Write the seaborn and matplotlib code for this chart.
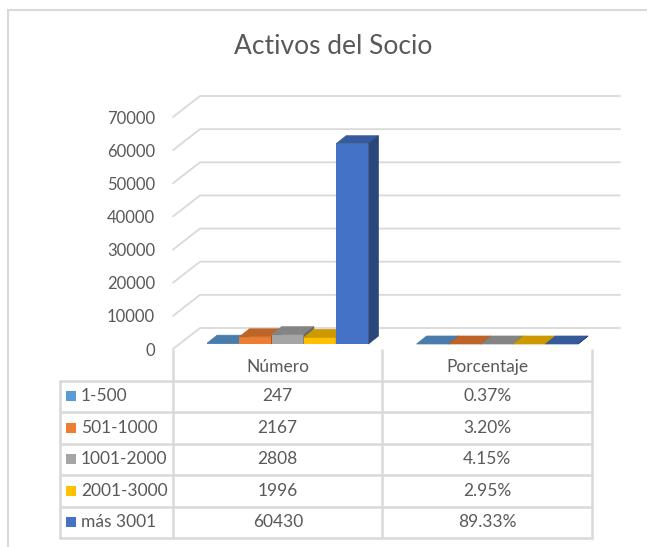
import numpy as np
import pandas as pd
import matplotlib
matplotlib.use('Agg')
import matplotlib.pyplot as plt
import matplotlib.transforms as mtransforms
from matplotlib.lines import Line2D
from matplotlib.patches import Polygon, Rectangle
import seaborn as sns

# Data
categorias = ['Número', 'Porcentaje']
rangos = ['1-500', '501-1000', '1001-2000', '2001-3000', 'más 3001']
numero = [247, 2167, 2808, 1996, 60430]
porcentaje = [0.0037, 0.0320, 0.0415, 0.0295, 0.8933]
porcentaje_txt = ['0.37%', '3.20%', '4.15%', '2.95%', '89.33%']
colores = ['#5B9BD5', '#ED7D31', '#A5A5A5', '#FFC000', '#4472C4']
yticks = list(range(0, 70001, 10000))

sns.set_style('white')
plt.rcParams['font.family'] = ['Lato', 'DejaVu Sans']
TXT = '#595959'
LINE = '#D9D9D9'

W, H = 647, 547
fig = plt.figure(figsize=(W / 100, H / 100), dpi=100)


def fx(px):
    return px / W


def fy(py):
    return 1 - py / H


def shade(c, f):
    r, g, b = matplotlib.colors.to_rgb(c)
    return (r * f, g * f, b * f)


# outer chart border
fig.add_artist(Rectangle((fx(8), -0.1), 1.2, fy(10) + 0.1, transform=fig.transFigure,
                         fill=False, edgecolor=LINE, lw=1.5))

fig.text(fx(333), fy(47), 'Activos del Socio', ha='center', va='center',
         fontsize=19, color=TXT)

df = pd.DataFrame({
    'Categoria': [categorias[0]] * 5 + [categorias[1]] * 5,
    'Rango': rangos * 2,
    'Valor': numero + porcentaje,
})

ax = fig.add_axes([fx(173), fy(349), fx(592) - fx(173), (349 - 117) / H])
sns.barplot(data=df, x='Categoria', y='Valor', hue='Rango', hue_order=rangos,
            order=categorias, palette=colores, width=0.77, saturation=1,
            errorbar=None, legend=False, ax=ax)
ax.set_xlim(-0.5, 1.5)
ax.set_ylim(0, 70000)
ax.set_yticks(yticks)
ax.set_yticklabels([str(t) for t in yticks])
ax.tick_params(axis='y', length=0, pad=13, labelsize=12, labelcolor=TXT)
ax.set_xticks([])
ax.set_xlabel('')
ax.set_ylabel('')
for s in ax.spines.values():
    s.set_visible(False)
ax.patch.set_visible(False)

ident = mtransforms.IdentityTransform()

# back wall gridlines (pseudo 3D)
x0 = ax.transData.transform((-0.5, 0))[0]
x1 = fx(620) * W
for t in yticks:
    yd = ax.transData.transform((0, t))[1]
    ax.add_line(Line2D([x0, x0 + 27, x1], [yd, yd + 21, yd + 21], transform=ident,
                       color=LINE, lw=1.3, zorder=0.5, clip_on=False))

# 3D-looking bars
ox, oy = 10, 5     # bar plane offset
dx, dy = 10, 8     # bar depth
bars = sorted(ax.patches, key=lambda p: p.get_x())
for i, p in enumerate(bars):
    col = p.get_facecolor()
    xa, ya = ax.transData.transform((p.get_x(), 0))
    xb, yb = ax.transData.transform((p.get_x() + p.get_width(), p.get_height()))
    xa, xb, ya, yb = xa + ox, xb + ox, ya + oy, yb + oy
    z = 2 + i * 0.01
    p.set_transform(mtransforms.offset_copy(ax.transData, fig=fig, x=ox, y=oy, units='dots'))
    p.set_edgecolor('none')
    p.set_clip_on(False)
    p.set_zorder(z)
    top = [(xa, yb), (xb, yb), (xb + dx, yb + dy), (xa + dx, yb + dy)]
    side = [(xb, ya), (xb, yb), (xb + dx, yb + dy), (xb + dx, ya + dy)]
    ax.add_patch(Polygon(top, closed=True, transform=ident, facecolor=shade(col, 0.8),
                         edgecolor=shade(col, 0.8), lw=0.5, clip_on=False, zorder=z))
    ax.add_patch(Polygon(side, closed=True, transform=ident, facecolor=shade(col, 0.62),
                         edgecolor=shade(col, 0.62), lw=0.5, clip_on=False, zorder=z))

# data table under the chart
col_edges = [fx(ax.transData.transform((e, 0))[0]) for e in (-0.5, 0.5, 1.5)]
col_mid = [fx(ax.transData.transform((c, 0))[0]) for c in (0, 1)]
row_edges = [380.5, 412, 443.5, 475, 506.5, 538]
head_top, left = 350, 60


def line(xs, ys):
    fig.add_artist(Line2D(xs, ys, transform=fig.transFigure, color=LINE, lw=1.8))


for xe in col_edges:
    line([xe, xe], [fy(head_top), fy(row_edges[-1])])
line([fx(left), fx(left)], [fy(row_edges[0]), fy(row_edges[-1])])
for ry in row_edges:
    line([fx(left), col_edges[-1]], [fy(ry), fy(ry)])

for c, xm in zip(categorias, col_mid):
    fig.text(xm, fy(367), c, ha='center', va='center', fontsize=12.5, color=TXT)

for i, r in enumerate(rangos):
    yc = fy((row_edges[i] + row_edges[i + 1]) / 2)
    fig.add_artist(Rectangle((fx(66), yc - 5 / H), 10 / W, 10 / H,
                             transform=fig.transFigure, color=colores[i], lw=0))
    fig.text(fx(81), yc, r, ha='left', va='center', fontsize=12.5, color=TXT)
    fig.text(col_mid[0], yc, str(numero[i]), ha='center', va='center', fontsize=12.5, color=TXT)
    fig.text(col_mid[1], yc, porcentaje_txt[i], ha='center', va='center', fontsize=12.5, color=TXT)

fig.savefig('out.png', dpi=100, facecolor='white')
